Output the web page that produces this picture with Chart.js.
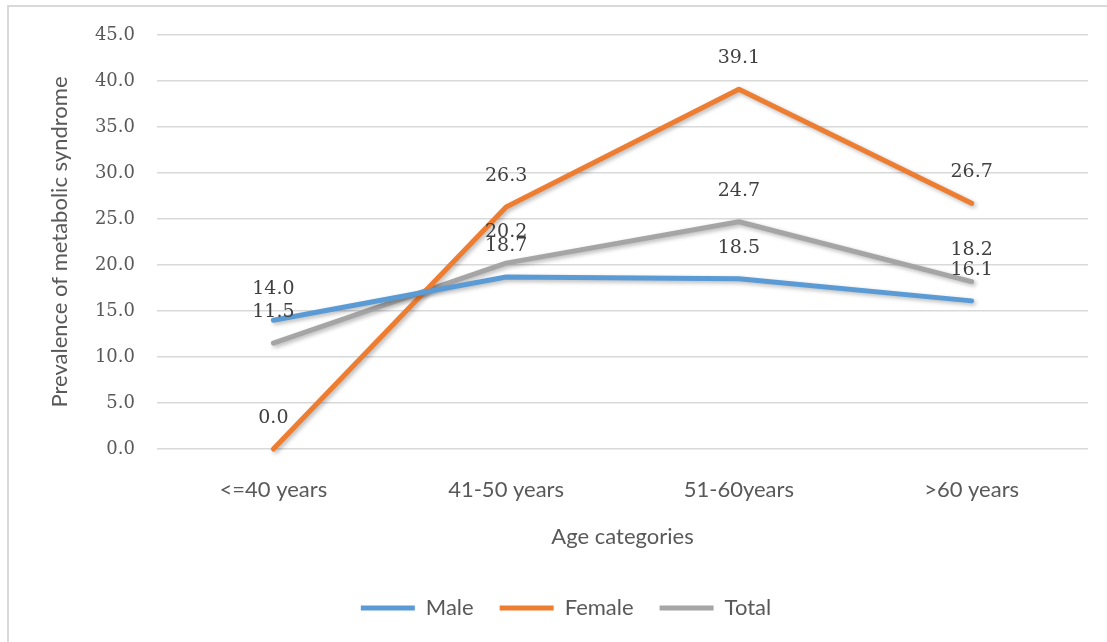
<!DOCTYPE html>
<html>
<head>
<meta charset="utf-8">
<script src="https://cdn.jsdelivr.net/npm/chart.js@4/dist/chart.umd.min.js"></script>
<style>
  html, body { margin: 0; padding: 0; background: #ffffff; overflow: hidden; }
  #frame {
    position: absolute; left: 7px; top: 5px; width: 1200px; height: 700px;
    border: 2px solid #d9d9d9; box-sizing: border-box;
  }
  #wrap { position: absolute; left: 0; top: 0; width: 1107px; height: 642px; }
</style>
</head>
<body>
<div id="frame"></div>
<div id="wrap"><canvas id="c" width="1107" height="642"></canvas></div>
<script>
// Age groups and prevalence of metabolic syndrome (%)
const categories = ['<=40 years', '41-50 years', '51-60years', '>60 years'];
const maleValues = [14.0, 18.7, 18.5, 16.1];
const femaleValues = [0.0, 26.3, 39.1, 26.7];
const totalValues = [11.5, 20.2, 24.7, 18.2];
const yTicks = [0, 5, 10, 15, 20, 25, 30, 35, 40, 45];

const SANS = 'Lato, "Open Sans", sans-serif';
const NUM = '"DejaVu Serif", serif';
const LINE_W = 5;

// Soft drop shadow under the series lines
const lineShadow = {
  id: 'lineShadow',
  beforeDatasetsDraw(chart) {
    const ctx = chart.ctx;
    ctx.save();
    ctx.shadowColor = 'rgba(0,0,0,0.28)';
    ctx.shadowBlur = 4;
    ctx.shadowOffsetX = 2;
    ctx.shadowOffsetY = 2;
  },
  afterDatasetsDraw(chart) {
    chart.ctx.restore();
  }
};

// Value labels centred above each point
const valueLabels = {
  id: 'valueLabels',
  afterDatasetsDraw(chart) {
    const ctx = chart.ctx;
    ctx.save();
    ctx.shadowColor = 'transparent';
    ctx.font = '19px ' + NUM;
    ctx.fillStyle = '#404040';
    ctx.textAlign = 'center';
    ctx.textBaseline = 'middle';
    chart.data.datasets.forEach((ds, i) => {
      const meta = chart.getDatasetMeta(i);
      meta.data.forEach((pt, j) => {
        ctx.fillText(ds.data[j].toFixed(1), pt.x, pt.y - 31);
      });
    });
    ctx.restore();
  }
};

new Chart(document.getElementById('c'), {
  type: 'line',
  data: {
    labels: categories,
    datasets: [
      { label: 'Male', data: maleValues, borderColor: '#5B9BD5', backgroundColor: '#5B9BD5', borderWidth: LINE_W },
      { label: 'Female', data: femaleValues, borderColor: '#ED7D31', backgroundColor: '#ED7D31', borderWidth: LINE_W },
      { label: 'Total', data: totalValues, borderColor: '#A5A5A5', backgroundColor: '#A5A5A5', borderWidth: LINE_W }
    ]
  },
  options: {
    responsive: false,
    animation: false,
    clip: false,
    devicePixelRatio: 1,
    layout: { padding: { left: 44, right: 19, top: 35, bottom: 13 } },
    elements: {
      line: { tension: 0, borderCapStyle: 'round', borderJoinStyle: 'round' },
      point: { radius: 0, hoverRadius: 0 }
    },
    plugins: {
      legend: {
        position: 'bottom',
        labels: {
          usePointStyle: true,
          pointStyle: 'line',
          pointStyleWidth: 54,
          padding: 26,
          color: '#595959',
          font: { family: SANS, size: 22 }
        }
      },
      tooltip: { enabled: false }
    },
    scales: {
      x: {
        offset: true,
        grid: { display: false, drawTicks: false },
        border: { display: false },
        ticks: { color: '#595959', padding: 28, font: { family: SANS, size: 22 } },
        title: {
          display: true, text: 'Age categories', color: '#595959',
          font: { family: SANS, size: 22 }, padding: { top: 0, bottom: 21 }
        },
        afterFit(scale) { scale.height = 122; }
      },
      y: {
        min: 0, max: 45,
        afterBuildTicks(scale) { scale.ticks = yTicks.map(v => ({ value: v })); },
        grid: { color: '#d9d9d9', lineWidth: 1.5, drawTicks: false },
        border: { display: false },
        ticks: {
          color: '#595959', padding: 22, font: { family: NUM, size: 18 },
          callback: v => Number(v).toFixed(1)
        },
        title: {
          display: true, text: 'Prevalence of metabolic syndrome', color: '#595959',
          font: { family: SANS, size: 22 }, padding: { top: 3, bottom: 0 }
        },
        afterFit(scale) { scale.width = 113; }
      }
    }
  },
  plugins: [lineShadow, valueLabels]
});
</script>
</body>
</html>
